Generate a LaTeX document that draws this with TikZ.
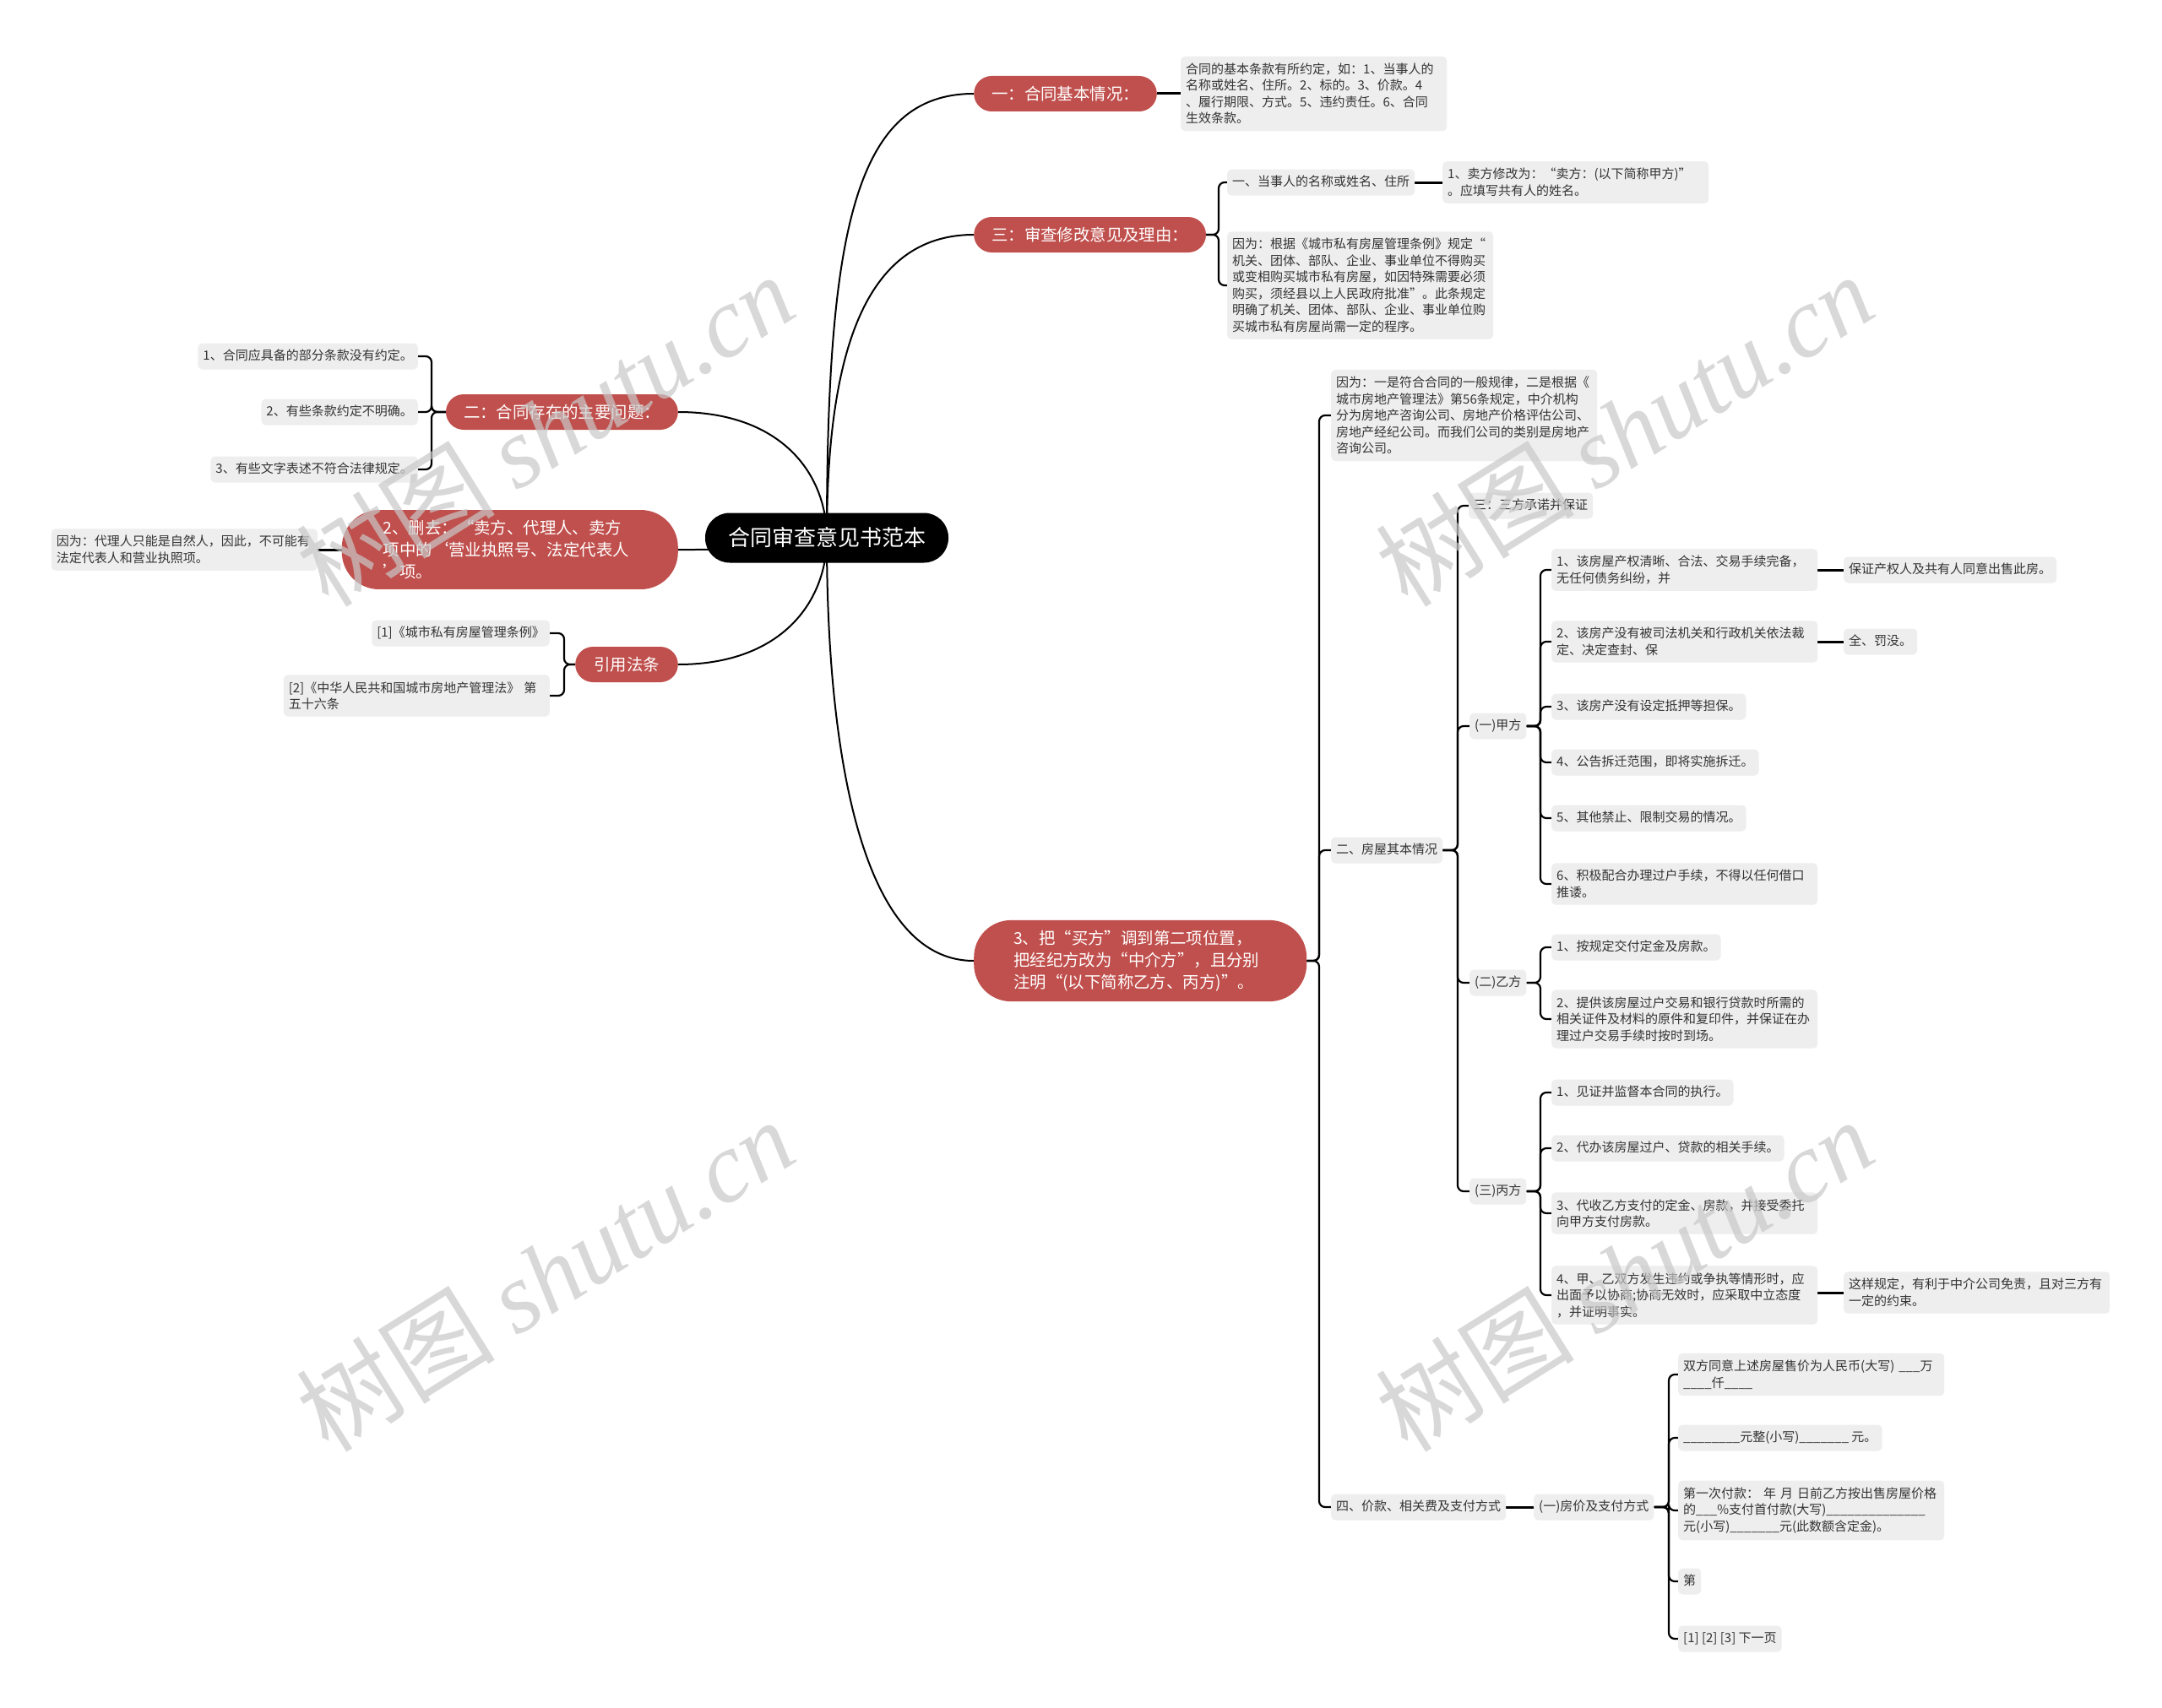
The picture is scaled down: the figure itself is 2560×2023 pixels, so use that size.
\documentclass[tikz,border=0pt]{standalone}
\usepackage{fontspec}
\setmainfont{Noto Sans CJK SC}
\newfontfamily\wmfont{Liberation Serif}
\usetikzlibrary{calc}
\pgfdeclarelayer{bg}
\pgfdeclarelayer{fg}
\pgfsetlayers{bg,main,fg}
\definecolor{redn}{RGB}{192,80,77}
\definecolor{grayn}{RGB}{238,238,238}
\definecolor{txt}{RGB}{51,51,51}
\definecolor{wmc}{RGB}{200,200,200}
\begin{document}
\begin{tikzpicture}[x=1pt,y=-1pt,
  rootn/.style={fill=black, text=white, rounded corners=29, inner xsep=27, inner ysep=0, minimum height=59, font=\fontsize{26}{30}\selectfont},
  redone/.style={fill=redn, text=white, rounded corners=21, inner xsep=21, inner ysep=0, minimum height=42, font=\fontsize{19.4}{26}\selectfont},
  redthree/.style={fill=redn, text=white, rounded corners=44, inner xsep=47, inner ysep=12, text width=300, align=left, font=\fontsize{19.4}{26}\selectfont},
  gone/.style={fill=grayn, text=txt, rounded corners=5, inner xsep=6, inner ysep=8, text height=11.5, text depth=3.5, font=\fontsize{15}{19.5}\selectfont},
  gwide/.style={fill=grayn, text=txt, rounded corners=5, inner xsep=6, inner ysep=8, text width=303, align=left, font=\fontsize{15}{19.5}\selectfont},
  curve/.style={line width=2, draw=black},
  brk/.style={line width=2.2, draw=black, rounded corners=7},
  stub/.style={line width=3, draw=black},
  wmark/.style={text=wmc, opacity=0.7, rotate=32, font=\fontsize{118}{118}\selectfont}
]
\begin{pgfonlayer}{bg}
\fill[white] (0,0) rectangle (2560,2023);
\end{pgfonlayer}
\useasboundingbox (0,0) rectangle (2560,2023);

% root
\node[rootn] (root) at (979,637) {合同审查意见书范本};

% main branches
\node[redone, anchor=west] (b1) at (1153,111) {一：合同基本情况：};
\node[redone, anchor=west] (b3) at (1153,278) {三：审查修改意见及理由：};
\node[redthree, anchor=west] (b5) at (1153,1138) {3、把“买方”调到第二项位置，\\把经纪方改为“中介方”，且分别\\注明“(以下简称乙方、丙方)”。};
\node[redone, anchor=east] (b2) at (803,488) {二：合同存在的主要问题：};
\node[redthree, anchor=east, inner xsep=49] (b4) at (803,651) {2、删去：“卖方、代理人、卖方\\项中的‘营业执照号、法定代表人\\’项。};
\node[redone, anchor=east, inner xsep=22] (b6) at (803,787) {引用法条};

% branch 一
\node[gwide, anchor=west] (n1) at (1398,111) {合同的基本条款有所约定，如：1、当事人的\\名称或姓名、住所。2、标的。3、价款。4\\、履行期限、方式。5、违约责任。6、合同\\生效条款。};

% branch 三
\node[gone, anchor=west] (n3a) at (1453,216) {一、当事人的名称或姓名、住所};
\node[gwide, anchor=west] (n3a1) at (1708,216) {1、卖方修改为：“卖方：(以下简称甲方)”\\。应填写共有人的姓名。};
\node[gwide, anchor=west] (n3b) at (1453,338) {因为：根据《城市私有房屋管理条例》规定“\\机关、团体、部队、企业、事业单位不得购买\\或变相购买城市私有房屋，如因特殊需要必须\\购买，须经县以上人民政府批准”。此条规定\\明确了机关、团体、部队、企业、事业单位购\\买城市私有房屋尚需一定的程序。};

% branch 二
\node[gone, anchor=east] (n2a) at (495,422) {1、合同应具备的部分条款没有约定。};
\node[gone, anchor=east] (n2b) at (495,488) {2、有些条款约定不明确。};
\node[gone, anchor=east] (n2c) at (495,556) {3、有些文字表述不符合法律规定。};

% branch 2、删去
\node[gwide, anchor=east] (n4a) at (376,651) {因为：代理人只能是自然人，因此，不可能有\\法定代表人和营业执照项。};

% branch 引用法条
\node[gone, anchor=east] (n6a) at (651,750) {[1]《城市私有房屋管理条例》};
\node[gwide, anchor=east] (n6b) at (651,824) {[2]《中华人民共和国城市房地产管理法》 第\\五十六条};

% branch 3、把
\node[gwide, anchor=west] (n5a) at (1576,492) {因为：一是符合合同的一般规律，二是根据《\\城市房地产管理法》第56条规定，中介机构\\分为房地产咨询公司、房地产价格评估公司、\\房地产经纪公司。而我们公司的类别是房地产\\咨询公司。};
\node[gone, anchor=west] (n5b) at (1576,1007) {二、房屋其本情况};
\node[gone, anchor=west] (n5c) at (1576,1785) {四、价款、相关费及支付方式};

\node[gone, anchor=west] (h0) at (1739,599) {三：三方承诺并保证};
\node[gone, anchor=west] (h1) at (1740,860) {(一)甲方};
\node[gone, anchor=west] (h2) at (1740,1164) {(二)乙方};
\node[gone, anchor=west] (h3) at (1740,1411) {(三)丙方};

\node[gwide, anchor=west] (j1) at (1837,675) {1、该房屋产权清晰、合法、交易手续完备，\\无任何债务纠纷，并};
\node[gone, anchor=west] (j1a) at (2183,675) {保证产权人及共有人同意出售此房。};
\node[gwide, anchor=west] (j2) at (1837,760) {2、该房产没有被司法机关和行政机关依法裁\\定、决定查封、保};
\node[gone, anchor=west] (j2a) at (2183,760) {全、罚没。};
\node[gone, anchor=west] (j3) at (1837,837) {3、该房产没有设定抵押等担保。};
\node[gone, anchor=west] (j4) at (1837,903) {4、公告拆迁范围，即将实施拆迁。};
\node[gone, anchor=west] (j5) at (1837,969) {5、其他禁止、限制交易的情况。};
\node[gwide, anchor=west] (j6) at (1837,1047) {6、积极配合办理过户手续，不得以任何借口\\推诿。};

\node[gone, anchor=west] (y1) at (1837,1122) {1、按规定交付定金及房款。};
\node[gwide, anchor=west] (y2) at (1837,1207) {2、提供该房屋过户交易和银行贷款时所需的\\相关证件及材料的原件和复印件，并保证在办\\理过户交易手续时按时到场。};

\node[gone, anchor=west] (c1) at (1837,1294) {1、见证并监督本合同的执行。};
\node[gone, anchor=west] (c2) at (1837,1360) {2、代办该房屋过户、贷款的相关手续。};
\node[gwide, anchor=west] (c3) at (1837,1437) {3、代收乙方支付的定金、房款，并接受委托\\向甲方支付房款。};
\node[gwide, anchor=west] (c4) at (1837,1534) {4、甲、乙双方发生违约或争执等情形时，应\\出面予以协商;协商无效时，应采取中立态度\\，并证明事实。};
\node[gwide, anchor=west] (c4a) at (2183,1531) {这样规定，有利于中介公司免责，且对三方有\\一定的约束。};

\node[gone, anchor=west] (p0) at (1816,1785) {(一)房价及支付方式};
\node[gwide, anchor=west] (p1) at (1987,1628) {双方同意上述房屋售价为人民币(大写) \_\_\_万\\\_\_\_\_仟\_\_\_\_};
\node[gone, anchor=west] (p2) at (1987,1703) {\_\_\_\_\_\_\_\_元整(小写)\_\_\_\_\_\_\_ 元。};
\node[gwide, anchor=west] (p3) at (1987,1789) {第一次付款： 年 月 日前乙方按出售房屋价格\\的\_\_\_\%支付首付款(大写)\_\_\_\_\_\_\_\_\_\_\_\_\_\_\\元(小写)\_\_\_\_\_\_\_元(此数额含定金)。};
\node[gone, anchor=west] (p4) at (1987,1873) {第};
\node[gone, anchor=west] (p5) at (1987,1941) {[1] [2] [3] 下一页};

% bracket x positions
\coordinate (k2) at (511,0);
\coordinate (k6) at (668,0);
\coordinate (k3) at (1443,0);
\coordinate (k5) at (1562,0);
\coordinate (kh) at (1726,0);
\coordinate (kj) at (1824,0);
\coordinate (kp) at (1976,0);

\begin{pgfonlayer}{bg}
% root curves
\draw[curve] (root.center) .. controls (979,269) and (1014,111) .. (b1.west);
\draw[curve] (root.center) .. controls (979,422) and (1022,278) .. (b3.west);
\draw[curve] (root.center) .. controls (979,762) and (988,1138) .. (b5.west);
\draw[curve] (root.center) .. controls (979,562) and (926,488) .. (b2.east);
\draw[curve] (root.center) .. controls (960,651) and (900,651) .. (b4.east);
\draw[curve] (root.center) .. controls (979,712) and (926,787) .. (b6.east);
% straight stubs
\draw[stub] (b1.east) -- (n1.west);
\draw[stub] (b4.west) -- (n4a.east);
\draw[stub] (n3a.east) -- (n3a1.west);
\draw[stub] (j1.east) -- (j1a.west);
\draw[stub] (j2.east) -- (j2a.west);
\draw[stub] (c4a.west -| c4.east) -- (c4a.west);
\draw[stub] (n5c.east) -- (p0.west);
% brackets
\foreach \c in {n2a,n2b,n2c} \draw[brk] (b2.west) -- (b2.west -| k2) |- (\c.east);
\foreach \c in {n6a,n6b} \draw[brk] (b6.west) -- (b6.west -| k6) |- (\c.east);
\foreach \c in {n3a,n3b} \draw[brk] (b3.east) -- (b3.east -| k3) |- (\c.west);
\foreach \c in {n5a,n5b,n5c} \draw[brk] (b5.east) -- (b5.east -| k5) |- (\c.west);
\foreach \c in {h0,h1,h2,h3} \draw[brk] (n5b.east) -- (n5b.east -| kh) |- (\c.west);
\foreach \c in {j1,j2,j3,j4,j5,j6} \draw[brk] (h1.east) -- (h1.east -| kj) |- (\c.west);
\foreach \c in {y1,y2} \draw[brk] (h2.east) -- (h2.east -| kj) |- (\c.west);
\foreach \c in {c1,c2,c3,c4} \draw[brk] (h3.east) -- (h3.east -| kj) |- (\c.west);
\foreach \c in {p1,p2,p3,p4,p5} \draw[brk] (p0.east) -- (p0.east -| kp) |- (\c.west);
\end{pgfonlayer}

% watermarks
\begin{pgfonlayer}{fg}
\node[wmark] (w1) at (645,509) {树图 {\wmfont\itshape shutu.cn}};
\node[wmark] (w2) at (645,1510) {树图 {\wmfont\itshape shutu.cn}};
\node[wmark] (w3) at (1923,509) {树图 {\wmfont\itshape shutu.cn}};
\node[wmark] (w4) at (1923,1510) {树图 {\wmfont\itshape shutu.cn}};
\end{pgfonlayer}
\end{tikzpicture}
\end{document}
